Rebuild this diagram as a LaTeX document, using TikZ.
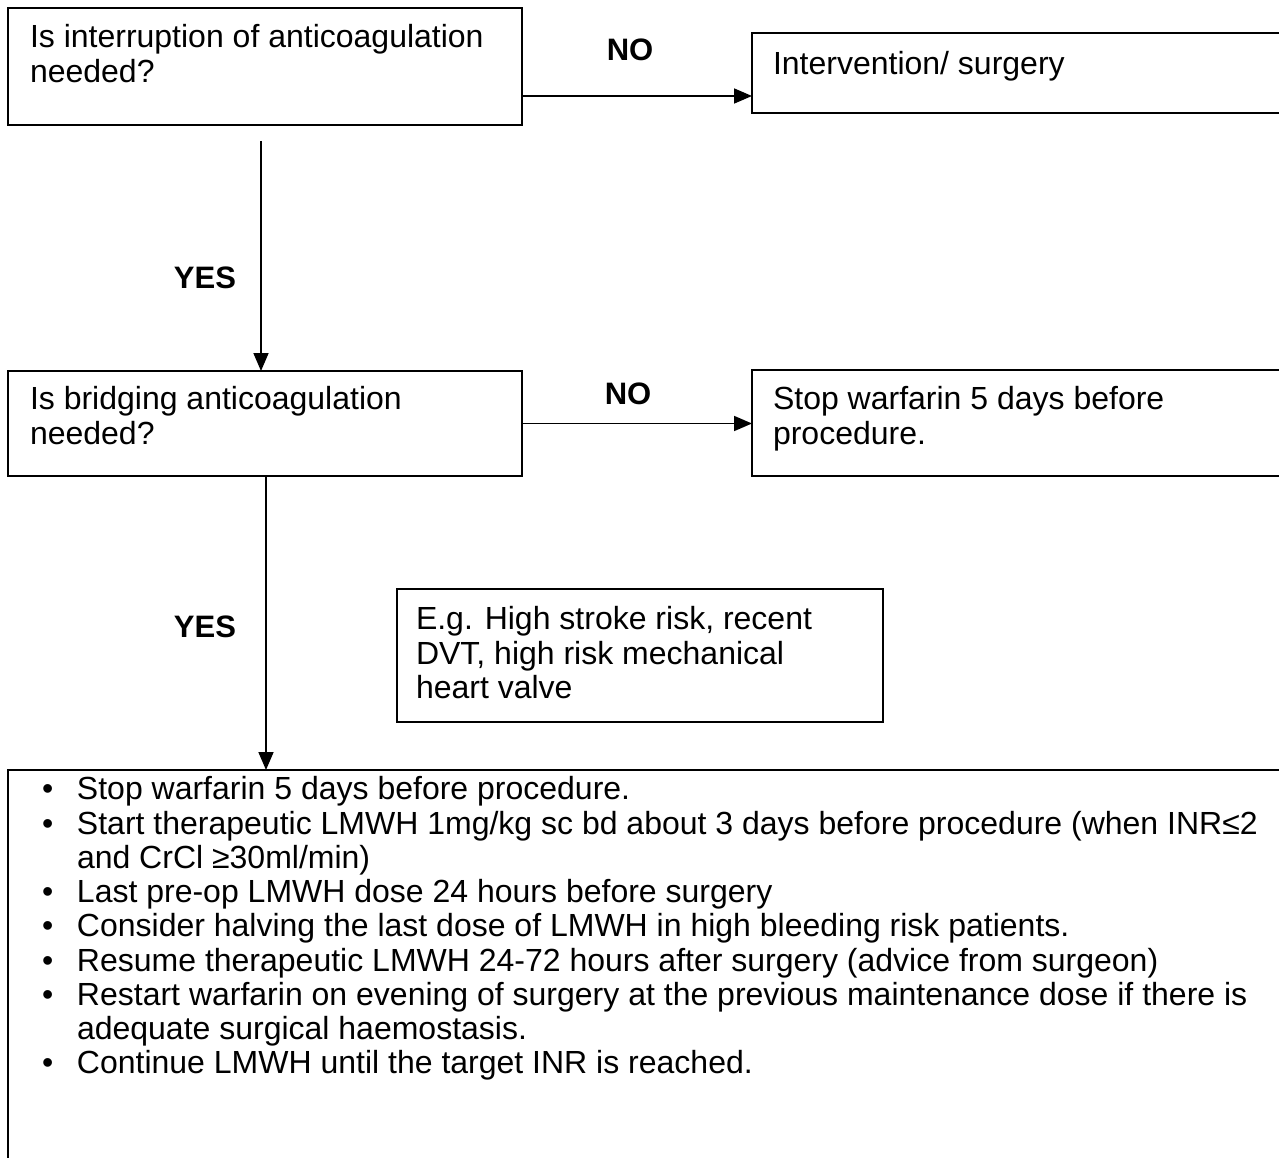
\documentclass[tikz,border=0pt]{standalone}
\usepackage{fontspec}
\setmainfont{Liberation Sans}
\usetikzlibrary{arrows.meta,calc}

\begin{document}
\begin{tikzpicture}[x=1pt,y=-1pt,
  every node/.style={inner sep=0pt,outer sep=0pt},
  flowbox/.style={draw=black,line width=1.8pt,rectangle,anchor=north west,minimum height=#1},
  txt/.style={anchor=north west,align=left,font=\fontsize{32}{34.25}\selectfont},
  answer/.style={anchor=base,font=\fontsize{31}{34.25}\selectfont\bfseries},
  arr/.style={line width=1.8pt,-{Triangle[length=18pt,width=15pt]}}]

% page and clipping to the visible area
\fill[white] (0,0) rectangle (1279,1158);
\useasboundingbox (0,0) rectangle (1279,1158);
\clip (0,0) rectangle (1279,1158);

% boxes
\node[flowbox=117pt,minimum width=514pt] (b1) at (8,8) {};
\node[flowbox=80pt,minimum width=560pt] (b2) at (752,33) {};
\node[flowbox=105pt,minimum width=514pt] (b3) at (8,371) {};
\node[flowbox=106pt,minimum width=560pt] (b4) at (752,370) {};
\node[flowbox=133pt,minimum width=486pt] (b6) at (397,589) {};
\node[flowbox=420pt,minimum width=1310pt] (b5) at (8,770) {};

% texts (first baseline = top + 24)
\newcommand\itemmark{\makebox[35pt][l]{\textbullet}}
\node[txt] (t1) at (30,24) {\strut Is interruption of anticoagulation\\needed?};
\node[txt] (t2) at (773,51) {\strut Intervention/ surgery};
\node[txt] (t3) at (30,386) {\strut Is bridging anticoagulation\\needed?};
\node[txt] (t4) at (773,386) {\strut Stop warfarin 5 days before\\procedure.};
\node[txt] (t6) at (416,606) {\strut E.g. High stroke risk, recent\\DVT, high risk mechanical\\heart valve};
\node[txt] (t5) at (42,776) {%
  \strut\itemmark Stop warfarin 5 days before procedure.\\
  \itemmark Start therapeutic LMWH 1mg/kg sc bd about 3 days before procedure (when INR≤2\\
  \hspace*{35pt}and CrCl ≥30ml/min)\\
  \itemmark Last pre-op LMWH dose 24 hours before surgery\\
  \itemmark Consider halving the last dose of LMWH in high bleeding risk patients.\\
  \itemmark Resume therapeutic LMWH 24-72 hours after surgery (advice from surgeon)\\
  \itemmark Restart warfarin on evening of surgery at the previous maintenance dose if there is\\
  \hspace*{35pt}adequate surgical haemostasis.\\
  \itemmark Continue LMWH until the target INR is reached.};

% answer labels
\node[answer] (no1) at (630,61) {NO};
\node[answer] (no2) at (628,404) {NO};
\node[answer] (yes1) at (205,288) {YES};
\node[answer] (yes2) at (205,637) {YES};

% connectors
\path (b1.south east) ++(0,-29) coordinate (n1);
\draw[arr] (n1) -- (n1 -| b2.west);
\draw[arr] (b3.east) -- (b3.east -| b4.west);
\path (b1.south) ++(-4,16) coordinate (v1);
\draw[arr] (v1) -- (v1 |- b3.north);
\draw[arr] (b3.south) ++(1,0) coordinate (v2) -- (v2 |- b5.north);

\end{tikzpicture}
\end{document}
